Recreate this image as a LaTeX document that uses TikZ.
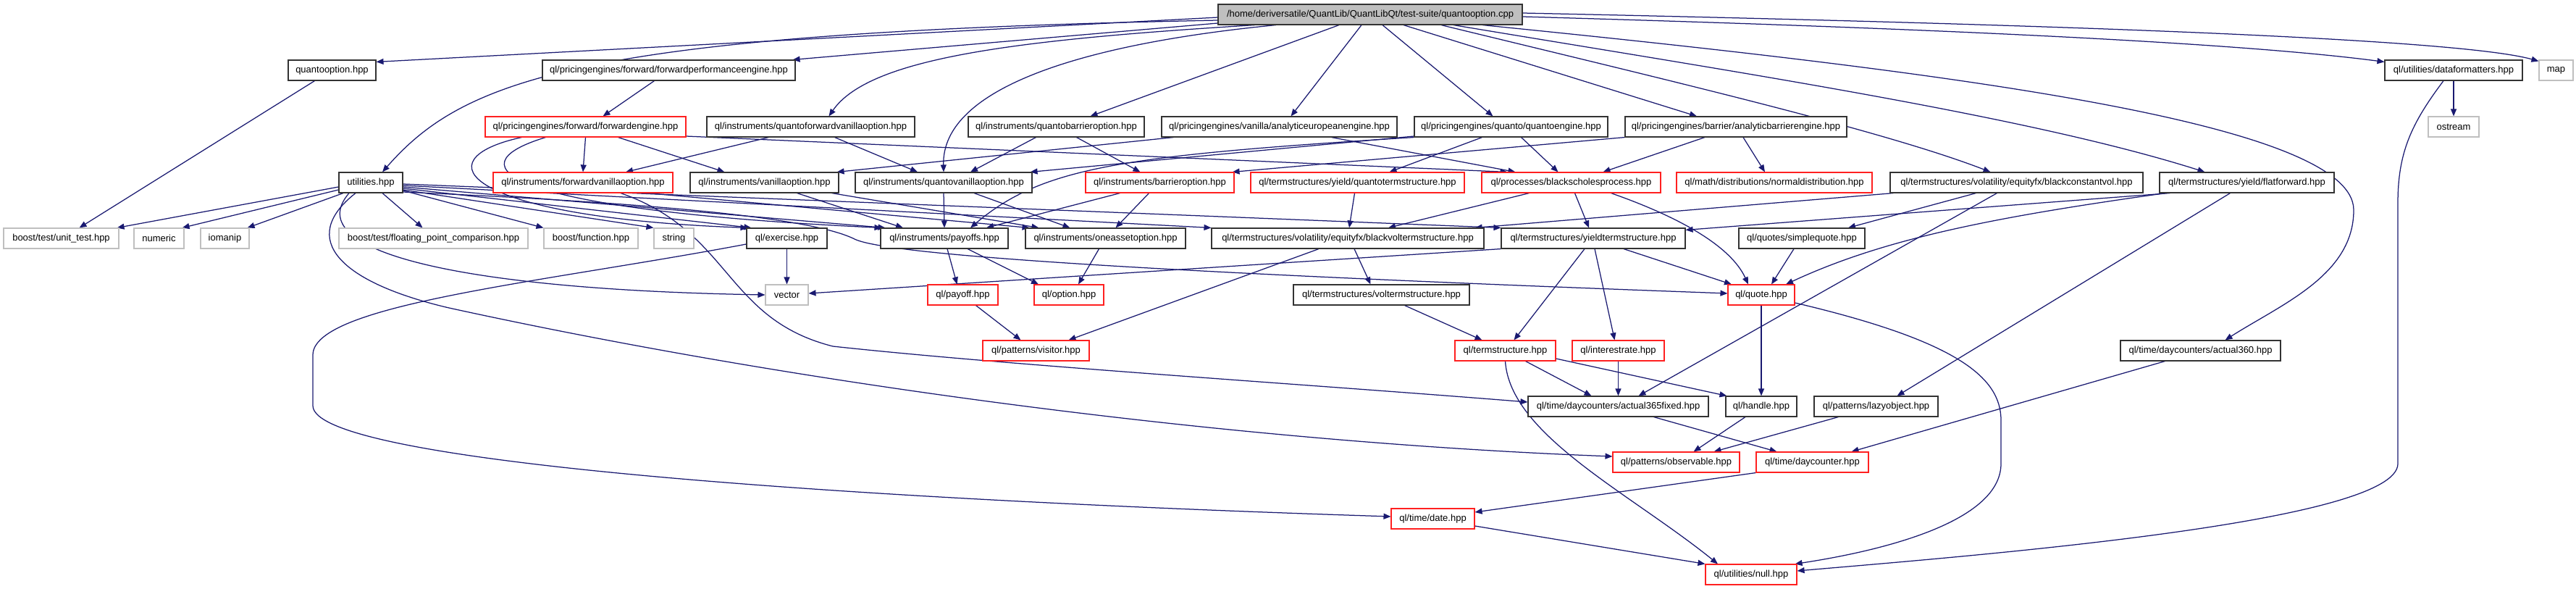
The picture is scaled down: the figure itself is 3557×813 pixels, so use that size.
\documentclass[tikz,border=0pt]{standalone}
\usepackage{fontspec}
\setmainfont{Liberation Sans}
\usetikzlibrary{arrows.meta,backgrounds}
\definecolor{edgec}{HTML}{191970}
\definecolor{graybd}{HTML}{BFBFBF}
\definecolor{redbd}{HTML}{FF2020}
\definecolor{topfill}{HTML}{BFBFBF}
\definecolor{boxbd}{HTML}{333333}
\newcommand\dnode[6]{\node[#2, minimum width={(#4-#3)*1pt}] (#1) at ({(#3+#4)/2},#5) {#6};}
\begin{document}
\begin{tikzpicture}[x=1pt,y=-1pt,
  base/.style={rectangle, minimum height=28pt, inner sep=0pt, line width=1.1pt, fill=white, font=\fontsize{13}{15}\selectfont},
  bx/.style={base, draw=boxbd},
  rbx/.style={base, draw=redbd},
  gbx/.style={base, draw=graybd},
  topbx/.style={base, draw=boxbd, fill=topfill},
  e/.style={draw=edgec, line width=1.25pt, -{Triangle[length=10pt,width=8pt]}}]
\useasboundingbox (0,0) rectangle (3557,813);
% row 0
\dnode{cpp}{topbx}{1682}{2102}{20}{/home/deriversatile/QuantLib/QuantLibQt/test-suite/quantooption.cpp}
% row 1
\dnode{qoh}{bx}{398}{519}{97}{quantooption.hpp}
\dnode{fpe}{bx}{749}{1098}{97}{ql/pricingengines/forward/forwardperformanceengine.hpp}
\dnode{dfm}{bx}{3293}{3483}{97}{ql/utilities/dataformatters.hpp}
\dnode{map}{gbx}{3506}{3553}{97}{map}
% row 2
\dnode{fwe}{rbx}{670}{947}{175}{ql/pricingengines/forward/forwardengine.hpp}
\dnode{qfvo}{bx}{976}{1263}{175}{ql/instruments/quantoforwardvanillaoption.hpp}
\dnode{qbo}{bx}{1337}{1580}{175}{ql/instruments/quantobarrieroption.hpp}
\dnode{aee}{bx}{1604}{1929}{175}{ql/pricingengines/vanilla/analyticeuropeanengine.hpp}
\dnode{qe}{bx}{1953}{2220}{175}{ql/pricingengines/quanto/quantoengine.hpp}
\dnode{abe}{bx}{2244}{2550}{175}{ql/pricingengines/barrier/analyticbarrierengine.hpp}
\dnode{ostream}{gbx}{3353}{3423}{175}{ostream}
% row 3
\dnode{util}{bx}{468}{556}{252}{utilities.hpp}
\dnode{fvo}{rbx}{681}{929}{252}{ql/instruments/forwardvanillaoption.hpp}
\dnode{vo}{bx}{953}{1158}{252}{ql/instruments/vanillaoption.hpp}
\dnode{qvo}{bx}{1181}{1425}{252}{ql/instruments/quantovanillaoption.hpp}
\dnode{bo}{rbx}{1499}{1704}{252}{ql/instruments/barrieroption.hpp}
\dnode{qts}{rbx}{1727}{2022}{252}{ql/termstructures/yield/quantotermstructure.hpp}
\dnode{bsp}{rbx}{2046}{2293}{252}{ql/processes/blackscholesprocess.hpp}
\dnode{nd}{rbx}{2315}{2585}{252}{ql/math/distributions/normaldistribution.hpp}
\dnode{bcv}{bx}{2610}{2959}{252}{ql/termstructures/volatility/equityfx/blackconstantvol.hpp}
\dnode{ff}{bx}{2982}{3223}{252}{ql/termstructures/yield/flatforward.hpp}
% row 4
\dnode{unit}{gbx}{5}{164}{329}{boost/test/unit\_test.hpp}
\dnode{numeric}{gbx}{185}{254}{329}{numeric}
\dnode{iomanip}{gbx}{277}{344}{329}{iomanip}
\dnode{floating}{gbx}{468}{729}{329}{boost/test/floating\_point\_comparison.hpp}
\dnode{bfunc}{gbx}{751}{881}{329}{boost/function.hpp}
\dnode{string}{gbx}{903}{958}{329}{string}
\dnode{exercise}{bx}{1031}{1142}{329}{ql/exercise.hpp}
\dnode{payoffs}{bx}{1216}{1392}{329}{ql/instruments/payoffs.hpp}
\dnode{oneasset}{bx}{1416}{1637}{329}{ql/instruments/oneassetoption.hpp}
\dnode{bvts}{bx}{1673}{2049}{329}{ql/termstructures/volatility/equityfx/blackvoltermstructure.hpp}
\dnode{yts}{bx}{2073}{2327}{329}{ql/termstructures/yieldtermstructure.hpp}
\dnode{sq}{bx}{2401}{2575}{329}{ql/quotes/simplequote.hpp}
% row 5
\dnode{vector}{gbx}{1057}{1116}{407}{vector}
\dnode{payoff}{rbx}{1281}{1378}{407}{ql/payoff.hpp}
\dnode{option}{rbx}{1428}{1524}{407}{ql/option.hpp}
\dnode{vts}{bx}{1786}{2029}{407}{ql/termstructures/voltermstructure.hpp}
\dnode{quote}{rbx}{2386}{2478}{407}{ql/quote.hpp}
% row 6
\dnode{visitor}{rbx}{1357}{1504}{484}{ql/patterns/visitor.hpp}
\dnode{ts}{rbx}{2009}{2148}{484}{ql/termstructure.hpp}
\dnode{ir}{rbx}{2171}{2298}{484}{ql/interestrate.hpp}
\dnode{a360}{bx}{2928}{3149}{484}{ql/time/daycounters/actual360.hpp}
% row 7
\dnode{a365}{bx}{2110}{2359}{561}{ql/time/daycounters/actual365fixed.hpp}
\dnode{handle}{bx}{2383}{2481}{561}{ql/handle.hpp}
\dnode{lazy}{bx}{2505}{2676}{561}{ql/patterns/lazyobject.hpp}
% row 8
\dnode{obs}{rbx}{2227}{2402}{638}{ql/patterns/observable.hpp}
\dnode{dc}{rbx}{2425}{2580}{638}{ql/time/daycounter.hpp}
% row 9
\dnode{date}{rbx}{1921}{2036}{716}{ql/time/date.hpp}
% row 10
\dnode{null}{rbx}{2355}{2481}{793}{ql/utilities/null.hpp}

\begin{scope}[on background layer]
% from cpp
\draw[e] ([yshift=-4pt]cpp.west) -- ([yshift=-3pt]qoh.north east);
\draw[e] ([yshift=-8pt]cpp.west) .. controls (800,45) and (640,110) .. ([xshift=16pt]util.north);
\draw[e] ([yshift=-12pt]cpp.west) -- ([xshift=-4pt]fpe.north east);
\draw[e] ([xshift=-159pt]cpp.south) .. controls (1400,55) and (1200,80) .. ([xshift=25pt]qfvo.north);
\draw[e] ([xshift=-130pt]cpp.south) .. controls (1500,60) and (1300,120) .. (qvo.north);
\draw[e] ([xshift=-43pt]cpp.south) -- ([xshift=47pt]qbo.north);
\draw[e] ([xshift=-12pt]cpp.south) -- ([xshift=16pt]aee.north);
\draw[e] ([xshift=17pt]cpp.south) -- ([xshift=-25pt]qe.north);
\draw[e] ([xshift=46pt]cpp.south) -- ([xshift=-54pt]abe.north);
\draw[e] ([xshift=98pt]cpp.south) .. controls (2300,110) and (2600,180) .. ([xshift=-36pt]bcv.north);
\draw[e] ([xshift=115pt]cpp.south) .. controls (2400,100) and (2800,160) .. ([xshift=-58pt]ff.north);
\draw[e] ([xshift=155pt]cpp.south) .. controls (2700,100) and (3250,170) .. (3250,290) .. controls (3250,380) and (3150,420) .. ([xshift=34pt]a360.north);
\draw[e] ([yshift=-3pt]cpp.east) .. controls (2700,40) and (3100,60) .. ([yshift=-3pt]dfm.north west);
\draw[e] ([yshift=2pt]cpp.east) .. controls (2900,35) and (3400,55) .. ([yshift=-2pt]map.north west);
% row 1
\draw[e] ([xshift=-24pt]qoh.south) -- ([xshift=25pt]unit.north);
\draw[e] ([xshift=-20pt]fpe.south) -- ([xshift=24pt]fwe.north);
\draw[e] (dfm.south) -- (ostream.north);
\draw[e] ([xshift=-14pt]dfm.south) .. controls (3330,170) and (3311,210) .. (3311,280) -- (3311,640) .. controls (3311,720) and (2750,765) .. ([yshift=5pt]null.east);
% row 2
\draw[e] (fwe.south) -- (fvo.north);
\draw[e] ([xshift=45pt]fwe.south) -- ([xshift=-55pt]vo.north);
\draw[e] ([yshift=-13pt]fwe.east) -- ([xshift=-88pt]bsp.north);
\draw[e] ([xshift=-88pt]fwe.south) .. controls (580,220) and (640,300) .. ([xshift=2pt]exercise.north west);
\draw[e] ([xshift=-55pt]fwe.south) .. controls (620,230) and (700,290) .. ([xshift=2pt]payoffs.north west);
\draw[e] ([xshift=-58pt]qfvo.south) -- ([xshift=59pt]fvo.north);
\draw[e] ([xshift=33pt]qfvo.south) -- ([xshift=-36pt]qvo.north);
\draw[e] ([xshift=-28pt]qbo.south) -- ([xshift=37pt]qvo.north);
\draw[e] ([xshift=28pt]qbo.south) -- ([xshift=-27pt]bo.north);
\draw[e] ([xshift=-146pt]aee.south) -- ([xshift=-3pt]vo.north east);
\draw[e] ([xshift=72pt]aee.south) -- ([xshift=-77pt]bsp.north);
\draw[e] ([yshift=-13pt]qe.west) -- ([xshift=-3pt]qvo.north east);
\draw[e] (qe.south west) .. controls (1550,215) and (1440,230) .. ([xshift=36pt]payoffs.north);
\draw[e] ([xshift=-40pt]qe.south) -- ([xshift=44pt]qts.north);
\draw[e] ([xshift=14pt]qe.south) -- ([xshift=-18pt]bsp.north);
\draw[e] (abe.south west) -- ([xshift=-3pt]bo.north east);
\draw[e] ([xshift=-43pt]abe.south) -- ([xshift=44pt]bsp.north);
\draw[e] ([xshift=10pt]abe.south) -- ([xshift=-13pt]nd.north);
% row 3
\draw[e] ([yshift=-6pt]util.west) -- ([xshift=-3pt]unit.north east);
\draw[e] ([yshift=-10pt]util.west) -- ([xshift=-3pt]numeric.north east);
\draw[e] ([xshift=-38pt]util.south) -- ([xshift=-3pt]iomanip.north east);
\draw[e] ([xshift=16pt]util.south) -- ([xshift=-15pt]floating.north);
\draw[e] ([yshift=-11pt]util.east) -- (bfunc.north west);
\draw[e] ([yshift=-10pt]util.east) -- (string.north west);
\draw[e] ([yshift=-8pt]util.east) -- ([xshift=7pt]exercise.north west);
\draw[e] ([yshift=-6pt]util.east) -- ([xshift=7pt]payoffs.north west);
\draw[e] ([yshift=-4pt]util.east) -- (bvts.north west);
\draw[e] ([yshift=-2pt]util.east) -- (yts.north west);
\draw[e] ([yshift=-13pt]util.east) .. controls (900,280) and (1120,300) .. (1180,330) .. controls (1230,355) and (1700,380) .. ([yshift=2pt]quote.west);
\draw[e] ([xshift=-30pt]util.south) .. controls (410,350) and (650,400) .. (vector.west);
\draw[e] ([xshift=-21pt]util.south) .. controls (410,330) and (470,390) .. (620,425) .. controls (1100,530) and (1700,610) .. ([yshift=8pt]obs.west);
\draw[e] ([xshift=89pt]fvo.south) -- ([xshift=-105pt]oneasset.north);
\draw[e] ([xshift=52pt]fvo.south) .. controls (1010,320) and (1000,440) .. (1150,478) .. controls (1400,505) and (1800,530) .. ([yshift=6pt]a365.west);
\draw[e] ([xshift=45pt]vo.south) -- ([xshift=-57pt]payoffs.north);
\draw[e] ([xshift=93pt]vo.south) -- ([xshift=-92pt]oneasset.north);
\draw[e] (qvo.south) -- (payoffs.north);
\draw[e] ([xshift=42pt]qvo.south) -- ([xshift=-49pt]oneasset.north);
\draw[e] ([xshift=-55pt]bo.south) -- ([xshift=58pt]payoffs.north);
\draw[e] ([xshift=-15pt]bo.south) -- ([xshift=14pt]oneasset.north);
\draw[e] ([xshift=-4pt]qts.south) -- ([xshift=2pt]bvts.north);
\draw[e] ([xshift=-58pt]bsp.south) -- ([xshift=56pt]bvts.north);
\draw[e] ([xshift=5pt]bsp.south) -- ([xshift=-6pt]yts.north);
\draw[e] ([xshift=55pt]bsp.south) .. controls (2320,300) and (2390,340) .. ([xshift=-18pt]quote.north);
\draw[e] ([xshift=-170pt]bcv.south) -- ([xshift=-13pt]bvts.north east);
\draw[e] ([xshift=-56pt]bcv.south) -- ([xshift=64pt]sq.north);
\draw[e] ([xshift=-27pt]bcv.south) -- ([xshift=28pt]a365.north);
\draw[e] ([xshift=-106pt]ff.south) -- ([yshift=-3pt]yts.north east);
\draw[e] ([xshift=-112pt]ff.south) .. controls (2750,300) and (2600,330) .. ([xshift=34pt]quote.north);
\draw[e] ([xshift=-23pt]ff.south) -- ([xshift=29pt]lazy.north);
% row 4
\draw[e] (exercise.south) -- (vector.north);
\draw[e] ([yshift=-8pt]exercise.west) .. controls (750,390) and (432,420) .. (432,490) -- (432,560) .. controls (432,640) and (1200,690) .. ([yshift=3pt]date.west);
\draw[e] ([xshift=4pt]payoffs.south) -- ([xshift=-8pt]payoff.north);
\draw[e] ([xshift=32pt]payoffs.south) -- ([xshift=-42pt]option.north);
\draw[e] ([xshift=-9pt]oneasset.south) -- ([xshift=13pt]option.north);
\draw[e] ([xshift=-40pt]bvts.south) -- ([xshift=45pt]visitor.north);
\draw[e] ([xshift=9pt]bvts.south) -- ([xshift=-15pt]vts.north);
\draw[e] ([xshift=-12pt]yts.south) -- ([xshift=12pt]ts.north);
\draw[e] ([xshift=2pt]yts.south) -- ([xshift=-5pt]ir.north);
\draw[e] ([xshift=42pt]yts.south) -- ([xshift=-41pt]quote.north);
\draw[e] (yts.south west) -- ([yshift=2pt]vector.east);
\draw[e] ([xshift=-11pt]sq.south) -- ([xshift=14pt]quote.north);
% row 5
\draw[e] ([xshift=18pt]payoff.south) -- ([xshift=-21pt]visitor.north);
\draw[e] ([xshift=32pt]vts.south) -- ([xshift=-32pt]ts.north);
\draw[e] (quote.south) -- (handle.north);
\draw[e] ([yshift=-11pt]quote.east) .. controls (2700,470) and (2763,520) .. (2763,580) -- (2763,640) .. controls (2763,720) and (2600,760) .. ([xshift=-3pt]null.north east);
% row 6
\draw[e] ([xshift=28pt]ts.south) -- ([xshift=-37pt]a365.north);
\draw[e] ([yshift=-11pt]ts.east) -- ([xshift=2pt]handle.north west);
\draw[e] (ts.south) .. controls (2085,600) and (2250,680) .. ([xshift=-46pt]null.north);
\draw[e] (ir.south) -- (a365.north);
\draw[e] ([xshift=-49pt]a360.south) -- ([xshift=54pt]dc.north);
% row 7
\draw[e] ([xshift=49pt]a365.south) -- ([xshift=-49pt]dc.north);
\draw[e] ([xshift=-22pt]handle.south) -- ([xshift=24pt]obs.north);
\draw[e] ([xshift=-52pt]lazy.south) -- ([xshift=52pt]obs.north);
% row 8-9
\draw[e] (dc.south west) -- ([yshift=9pt]date.east);
\draw[e] ([yshift=-10pt]date.east) -- (null.north west);
\end{scope}
\end{tikzpicture}
\end{document}
